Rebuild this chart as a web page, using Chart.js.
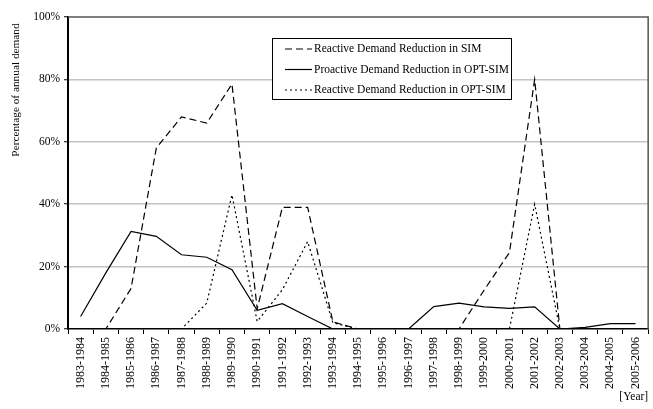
<!DOCTYPE html>
<html>
<head>
<meta charset="utf-8">
<script src="https://cdn.jsdelivr.net/npm/chart.js@4"></script>
<style>
  html, body { margin: 0; padding: 0; background: #fff; }
  #wrap { width: 653px; height: 409px; position: relative; }
</style>
</head>
<body>
<div id="wrap"><canvas id="chart1"></canvas></div>
<script>
// categories (years)
const years = ['1983-1984','1984-1985','1985-1986','1986-1987','1987-1988','1988-1989','1989-1990',
  '1990-1991','1991-1992','1992-1993','1993-1994','1994-1995','1995-1996','1996-1997','1997-1998',
  '1998-1999','1999-2000','2000-2001','2001-2002','2002-2003','2003-2004','2004-2005','2005-2006'];

// series values (% of annual demand)
const reactiveSim = [0,0,13,58,68,66,78.5,6.5,39,39,2.3,0,0,0,0,0,12.5,24.5,80,0,0,0,0];
const proactiveOpt = [4,18,31.3,29.7,23.8,23,19,6,8.1,4,0,0,0,0,7.2,8.3,7.1,6.6,7.1,0,0.5,1.7,1.7];
const reactiveOpt = [0,0,0,0,0,8.3,43,2.4,12.6,28,2,0,0,0,0,0,0,0,40,0,0,0,0];

const seriesLabels = ['Reactive Demand Reduction in SIM','Proactive Demand Reduction in OPT-SIM','Reactive Demand Reduction in OPT-SIM'];
const yTicks = [0,20,40,60,80,100];
const yTitle = 'Percentage of annual demand';
const xTitle = '[Year]';

const serif = 'Liberation Serif, Times New Roman, serif';

// legend box + y title + plot border
const extras = {
  id: 'extras',
  afterDraw(chart) {
    const ctx = chart.ctx;
    const a = chart.chartArea;
    ctx.save();
    // top/right border
    ctx.strokeStyle = '#555';
    ctx.lineWidth = 1.5;
    ctx.beginPath();
    ctx.moveTo(a.left, a.top);
    ctx.lineTo(a.right, a.top);
    ctx.lineTo(a.right, a.bottom);
    ctx.stroke();

    // y title
    ctx.fillStyle = '#000';
    ctx.font = '11.3px ' + serif;
    ctx.translate(16, 90);
    ctx.rotate(-Math.PI/2);
    ctx.textAlign = 'center';
    ctx.textBaseline = 'middle';
    ctx.fillText(yTitle, 0, 0);
    ctx.restore();

    // legend
    ctx.save();
    const bx = 272, by = 38, bw = 239, bh = 61;
    ctx.fillStyle = '#fff';
    ctx.fillRect(bx, by, bw, bh);
    ctx.strokeStyle = '#000';
    ctx.lineWidth = 1;
    ctx.strokeRect(bx + 0.5, by + 0.5, bw, bh);
    ctx.font = '11.5px ' + serif;
    ctx.textBaseline = 'middle';
    chart.data.datasets.forEach((ds, i) => {
      const y = 49 + i * 20.5;
      ctx.strokeStyle = '#000';
      ctx.lineWidth = 1.2;
      ctx.setLineDash(ds.borderDash || []);
      ctx.beginPath();
      ctx.moveTo(285, y);
      ctx.lineTo(312, y);
      ctx.stroke();
      ctx.setLineDash([]);
      ctx.fillStyle = '#000';
      ctx.fillText(ds.label, 314, y);
    });
    ctx.restore();
  }
};

const ctx1 = document.getElementById('chart1').getContext('2d');
new Chart(ctx1, {
  type: 'line',
  data: {
    labels: years,
    datasets: [
      { label: seriesLabels[0], data: reactiveSim, borderColor: '#000', borderWidth: 1.2, borderDash: [7,4], pointRadius: 0, tension: 0, fill: false },
      { label: seriesLabels[1], data: proactiveOpt, borderColor: '#000', borderWidth: 1.2, pointRadius: 0, tension: 0, fill: false },
      { label: seriesLabels[2], data: reactiveOpt, borderColor: '#000', borderWidth: 1.2, borderDash: [2,3], pointRadius: 0, tension: 0, fill: false }
    ]
  },
  options: {
    responsive: true,
    maintainAspectRatio: false,
    animation: false,
    layout: { padding: { left: 0, right: 2, top: 17, bottom: 0 } },
    plugins: { legend: { display: false }, tooltip: { enabled: false } },
    scales: {
      x: {
        offset: true,
        grid: { offset: true, drawOnChartArea: false, drawTicks: true, tickLength: 5, tickColor: '#000', tickWidth: 1 },
        border: { color: '#000', width: 1.5 },
        ticks: { color: '#000', font: { family: serif, size: 12 }, minRotation: 90, maxRotation: 90, autoSkip: false, padding: 3 },
        title: { display: true, text: xTitle, align: 'end', color: '#000', font: { family: serif, size: 11.5 }, padding: { top: 0, bottom: 5 } },
        afterFit(s) { s.height = 80; }
      },
      y: {
        min: 0, max: 100,
        afterBuildTicks(s) { s.ticks = yTicks.map(v => ({ value: v })); },
        grid: {
          color: c => (c.tick && c.tick.value > 0 && c.tick.value < 100) ? '#c4c4c4' : 'rgba(0,0,0,0)',
          lineWidth: 1.5,
          tickLength: 4, tickColor: '#000', tickWidth: 1
        },
        border: { color: '#000', width: 2 },
        ticks: { color: '#000', font: { family: serif, size: 11.5 }, padding: 4, callback: v => v + '%' },
        afterFit(s) { s.width = 68; }
      }
    }
  },
  plugins: [extras]
});
</script>
</body>
</html>
